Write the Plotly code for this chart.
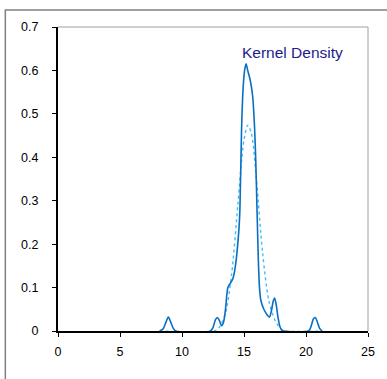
import plotly.graph_objects as go

# Kernel density curve
kd_x = [8.2, 8.5, 8.7, 8.9, 9.1, 9.3, 9.5,
        12.3, 12.5, 12.7, 12.85, 13.0, 13.2, 13.35, 13.5, 13.7, 13.9, 14.1, 14.3,
        14.58, 14.67, 14.8, 14.93, 15.05, 15.17, 15.3, 15.5, 15.7, 15.85, 15.95,
        16.05, 16.15, 16.25, 16.35, 16.6, 16.85, 17.05, 17.2, 17.35, 17.47, 17.6,
        17.75, 17.9, 18.05, 18.2,
        20.2, 20.4, 20.6, 20.75, 20.9, 21.1, 21.3]
kd_y = [0.0, 0.006, 0.02, 0.032, 0.02, 0.006, 0.0,
        0.0, 0.008, 0.026, 0.031, 0.025, 0.012, 0.02, 0.048, 0.10, 0.11, 0.12, 0.148,
        0.23, 0.28, 0.46, 0.56, 0.60, 0.615, 0.60, 0.578, 0.54, 0.47, 0.39,
        0.28, 0.17, 0.10, 0.072, 0.05, 0.038, 0.032, 0.045, 0.068, 0.076, 0.06,
        0.03, 0.01, 0.002, 0.0,
        0.0, 0.01, 0.028, 0.031, 0.022, 0.006, 0.0]

# Normal curve (dotted)
nd_x = [8.2, 12.6, 13.0, 13.5, 14.0, 14.5, 14.8, 15.0, 15.3, 15.6, 16.0, 16.5,
        17.0, 17.5, 18.0, 18.3, 21.2]
nd_y = [0.0, 0.0, 0.008, 0.04, 0.13, 0.29, 0.39, 0.44, 0.474, 0.455, 0.35, 0.18,
        0.07, 0.025, 0.004, 0.0, 0.0]

x_ticks = [0, 5, 10, 15, 20, 25]
y_ticks = [0, 0.1, 0.2, 0.3, 0.4, 0.5, 0.6, 0.7]
y_tick_labels = ["0", "0.1", "0.2", "0.3", "0.4", "0.5", "0.6", "0.7"]
label_text = "Kernel Density"

fig = go.Figure()
fig.add_trace(go.Scatter(x=nd_x, y=nd_y, mode="lines",
                         line=dict(color="#3CC0F5", width=1.4, dash="dot", shape="spline", smoothing=0.8),
                         showlegend=False, hoverinfo="skip"))
fig.add_trace(go.Scatter(x=kd_x, y=kd_y, mode="lines",
                         line=dict(color="#0A6FC2", width=1.6, shape="spline", smoothing=0.7),
                         showlegend=False, hoverinfo="skip"))

font = dict(family="Liberation Sans, Arial, sans-serif", size=12.5, color="#000000")

fig.update_layout(
    width=387, height=379,
    margin=dict(l=58, r=17, t=27, b=48),
    paper_bgcolor="white", plot_bgcolor="white",
    font=font,
    xaxis=dict(range=[0, 25], tickvals=x_ticks, ticktext=[str(v) for v in x_ticks],
               showgrid=False, zeroline=False, showline=True, linecolor="black", linewidth=2,
               ticks="outside", ticklen=4, tickwidth=1, tickcolor="black",
               ticklabelstandoff=4, layer="below traces", fixedrange=True),
    yaxis=dict(range=[0, 0.7], tickvals=y_ticks, ticktext=y_tick_labels,
               showgrid=False, zeroline=False, showline=True, linecolor="black", linewidth=2,
               ticks="outside", ticklen=4, tickwidth=1, tickcolor="black",
               ticklabelstandoff=11, layer="below traces", fixedrange=True),
    shapes=[
        dict(type="line", xref="paper", yref="paper", x0=0, x1=1, y0=1, y1=1,
             line=dict(color="#A0A0A0", width=1)),
        dict(type="line", xref="paper", yref="paper", x0=1, x1=1, y0=0, y1=1,
             line=dict(color="#A0A0A0", width=1)),
        dict(type="rect", xref="paper", yref="paper", x0=-0.1699, x1=1.08, y0=-0.18, y1=1.0559,
             line=dict(color="#808080", width=1.5)),
    ],
    annotations=[
        dict(x=18.95, y=0.642, xref="x", yref="y", text=label_text, showarrow=False,
             xanchor="center", yanchor="middle",
             font=dict(family="Liberation Sans, Arial, sans-serif", size=15.5, color="#1C1C8C")),
    ],
)

fig.write_html("out.html")
